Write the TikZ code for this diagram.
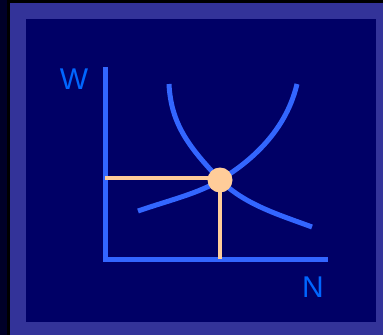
\documentclass[tikz,border=0pt]{standalone}
\usepackage{fontspec}
\setmainfont{Liberation Sans}
\definecolor{FrameDark}  {RGB}{0,0,40}
\definecolor{FramePurple}{RGB}{51,51,153}
\definecolor{PanelNavy}  {RGB}{0,0,102}
\definecolor{CurveBlue}  {RGB}{51,102,255}
\definecolor{LabelBlue}  {RGB}{0,102,255}
\definecolor{Peach}      {RGB}{255,204,153}
\usetikzlibrary{positioning,calc}

\begin{document}
\begin{tikzpicture}[x=1pt,y=-1pt,
  axis/.style={draw=CurveBlue,line width=5pt},
  curve/.style={draw=CurveBlue,line width=5pt},
  guide/.style={draw=Peach,line width=4.5pt},
  lbl/.style={text=LabelBlue,font=\fontsize{30}{30}\selectfont,inner sep=0pt}]
  % frame
  \fill[black] (0,0) rectangle (383,335);
  \fill[FrameDark] (0,0) rectangle (7,335);
  \fill[FramePurple] (10,3) rectangle (383,335);
  \fill[PanelNavy] (26,19) rectangle (376,322);
  \useasboundingbox (0,0) rectangle (383,335);
  % axes
  \coordinate (O) at (105,259);
  \coordinate (Wtop) at (105,67);
  \coordinate (Nend) at (328,259);
  \draw[axis] (Wtop) -- (O) -- (Nend);
  \node[lbl] (W) at (74,79) {W};
  \node[lbl] (N) at (313,287) {N};
  % equilibrium
  \coordinate (E) at (220,180);
  \coordinate (Ew) at (105,178);
  \coordinate (En) at (220,259);
  \draw[guide] (Ew) -- (E |- Ew);
  \draw[guide] (E) -- (En);
  % curves
  \draw[curve] (169,84) .. controls (171,125) and (190,148) .. (E)
               .. controls (245,205) and (280,215) .. (312,227);
  \draw[curve] (138,211) .. controls (170,200) and (200,193) .. (E)
               .. controls (245,165) and (285,135) .. (297,84);
  \node[circle,fill=Peach,minimum size=25pt,inner sep=0pt] (dot) at (E) {};
\end{tikzpicture}
\end{document}
